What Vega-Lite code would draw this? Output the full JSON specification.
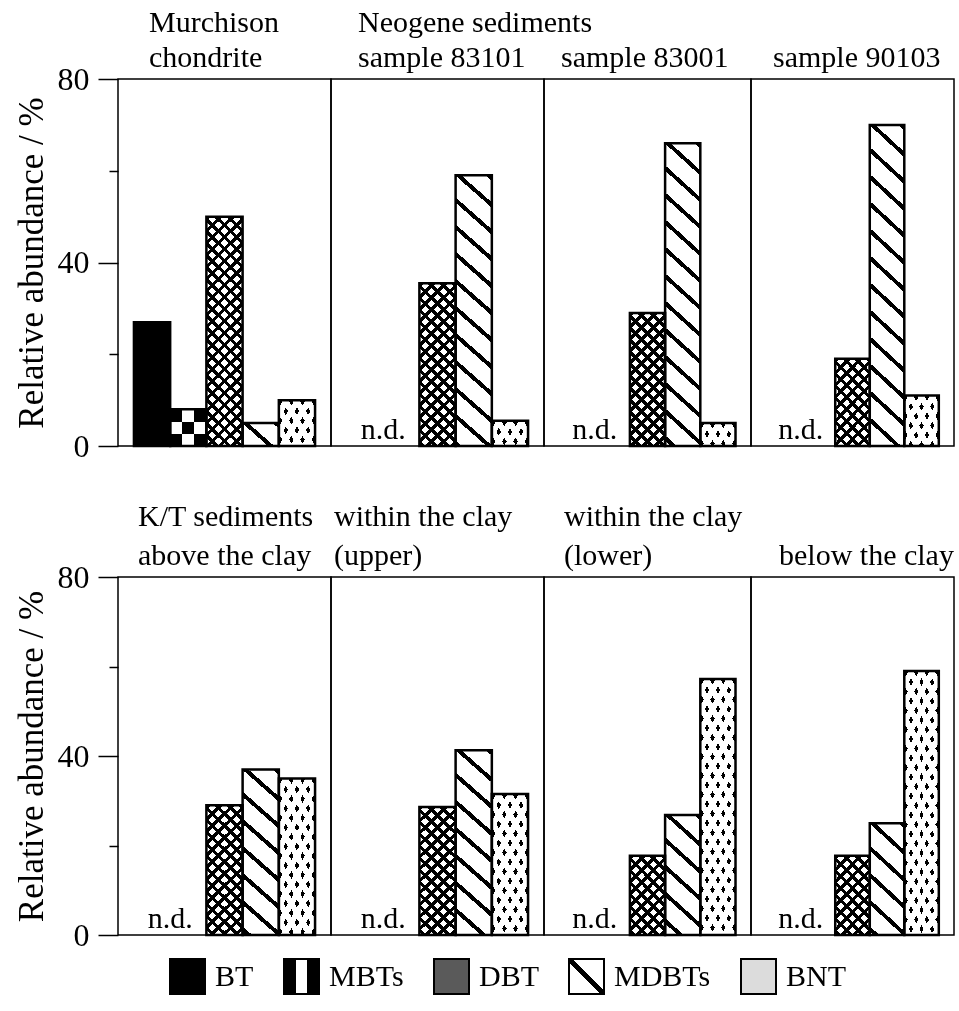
{
  "$schema": "https://vega.github.io/schema/vega-lite/v6.json",
  "background": "white",
  "padding": {"left": 13, "top": 7, "right": 6, "bottom": 5},
  "params": [
    {"name": "stCK", "expr": "[{offset:0,color:'#000'},{offset:0.3333,color:'#000'},{offset:0.3333,color:'#fff'},{offset:0.6667,color:'#fff'},{offset:0.6667,color:'#000'},{offset:1,color:'#000'}]"},
    {"name": "stDG", "expr": "[{offset:0,color:'#fff'},{offset:0.45,color:'#fff'},{offset:0.45,color:'#000'},{offset:0.55,color:'#000'},{offset:0.55,color:'#fff'},{offset:1,color:'#fff'}]"},
    {"name": "stMD", "expr": "[{offset:0,color:'#000'},{offset:0.0143,color:'#000'},{offset:0.0143,color:'#fff'},{offset:0.0714,color:'#fff'},{offset:0.0714,color:'#000'},{offset:0.0857,color:'#000'},{offset:0.0857,color:'#fff'},{offset:0.1429,color:'#fff'},{offset:0.1429,color:'#000'},{offset:0.1571,color:'#000'},{offset:0.1571,color:'#fff'},{offset:0.2143,color:'#fff'},{offset:0.2143,color:'#000'},{offset:0.2286,color:'#000'},{offset:0.2286,color:'#fff'},{offset:0.2857,color:'#fff'},{offset:0.2857,color:'#000'},{offset:0.3,color:'#000'},{offset:0.3,color:'#fff'},{offset:0.3571,color:'#fff'},{offset:0.3571,color:'#000'},{offset:0.3714,color:'#000'},{offset:0.3714,color:'#fff'},{offset:0.4286,color:'#fff'},{offset:0.4286,color:'#000'},{offset:0.4429,color:'#000'},{offset:0.4429,color:'#fff'},{offset:0.5,color:'#fff'},{offset:0.5,color:'#000'},{offset:0.5143,color:'#000'},{offset:0.5143,color:'#fff'},{offset:0.5714,color:'#fff'},{offset:0.5714,color:'#000'},{offset:0.5857,color:'#000'},{offset:0.5857,color:'#fff'},{offset:0.6429,color:'#fff'},{offset:0.6429,color:'#000'},{offset:0.6571,color:'#000'},{offset:0.6571,color:'#fff'},{offset:0.7143,color:'#fff'},{offset:0.7143,color:'#000'},{offset:0.7286,color:'#000'},{offset:0.7286,color:'#fff'},{offset:0.7857,color:'#fff'},{offset:0.7857,color:'#000'},{offset:0.8,color:'#000'},{offset:0.8,color:'#fff'},{offset:0.8571,color:'#fff'},{offset:0.8571,color:'#000'},{offset:0.8714,color:'#000'},{offset:0.8714,color:'#fff'},{offset:0.9286,color:'#fff'},{offset:0.9286,color:'#000'},{offset:0.9429,color:'#000'},{offset:0.9429,color:'#fff'},{offset:1,color:'#fff'}]"},
    {"name": "stDB", "expr": "[{offset:0,color:'#000'},{offset:0.0163,color:'#000'},{offset:0.0163,color:'#fff'},{offset:0.0435,color:'#fff'},{offset:0.0435,color:'#000'},{offset:0.0598,color:'#000'},{offset:0.0598,color:'#fff'},{offset:0.087,color:'#fff'},{offset:0.087,color:'#000'},{offset:0.1033,color:'#000'},{offset:0.1033,color:'#fff'},{offset:0.1304,color:'#fff'},{offset:0.1304,color:'#000'},{offset:0.1467,color:'#000'},{offset:0.1467,color:'#fff'},{offset:0.1739,color:'#fff'},{offset:0.1739,color:'#000'},{offset:0.1902,color:'#000'},{offset:0.1902,color:'#fff'},{offset:0.2174,color:'#fff'},{offset:0.2174,color:'#000'},{offset:0.2337,color:'#000'},{offset:0.2337,color:'#fff'},{offset:0.2609,color:'#fff'},{offset:0.2609,color:'#000'},{offset:0.2772,color:'#000'},{offset:0.2772,color:'#fff'},{offset:0.3043,color:'#fff'},{offset:0.3043,color:'#000'},{offset:0.3207,color:'#000'},{offset:0.3207,color:'#fff'},{offset:0.3478,color:'#fff'},{offset:0.3478,color:'#000'},{offset:0.3641,color:'#000'},{offset:0.3641,color:'#fff'},{offset:0.3913,color:'#fff'},{offset:0.3913,color:'#000'},{offset:0.4076,color:'#000'},{offset:0.4076,color:'#fff'},{offset:0.4348,color:'#fff'},{offset:0.4348,color:'#000'},{offset:0.4511,color:'#000'},{offset:0.4511,color:'#fff'},{offset:0.4783,color:'#fff'},{offset:0.4783,color:'#000'},{offset:0.4946,color:'#000'},{offset:0.4946,color:'#fff'},{offset:0.5217,color:'#fff'},{offset:0.5217,color:'#000'},{offset:0.538,color:'#000'},{offset:0.538,color:'#fff'},{offset:0.5652,color:'#fff'},{offset:0.5652,color:'#000'},{offset:0.5815,color:'#000'},{offset:0.5815,color:'#fff'},{offset:0.6087,color:'#fff'},{offset:0.6087,color:'#000'},{offset:0.625,color:'#000'},{offset:0.625,color:'#fff'},{offset:0.6522,color:'#fff'},{offset:0.6522,color:'#000'},{offset:0.6685,color:'#000'},{offset:0.6685,color:'#fff'},{offset:0.6957,color:'#fff'},{offset:0.6957,color:'#000'},{offset:0.712,color:'#000'},{offset:0.712,color:'#fff'},{offset:0.7391,color:'#fff'},{offset:0.7391,color:'#000'},{offset:0.7554,color:'#000'},{offset:0.7554,color:'#fff'},{offset:0.7826,color:'#fff'},{offset:0.7826,color:'#000'},{offset:0.7989,color:'#000'},{offset:0.7989,color:'#fff'},{offset:0.8261,color:'#fff'},{offset:0.8261,color:'#000'},{offset:0.8424,color:'#000'},{offset:0.8424,color:'#fff'},{offset:0.8696,color:'#fff'},{offset:0.8696,color:'#000'},{offset:0.8859,color:'#000'},{offset:0.8859,color:'#fff'},{offset:0.913,color:'#fff'},{offset:0.913,color:'#000'},{offset:0.9293,color:'#000'},{offset:0.9293,color:'#fff'},{offset:0.9565,color:'#fff'},{offset:0.9565,color:'#000'},{offset:0.9728,color:'#000'},{offset:0.9728,color:'#fff'},{offset:1,color:'#fff'}]"},
    {"name": "stBN", "expr": "[{offset:0,color:'#000'},{offset:0.0222,color:'#000'},{offset:0.0222,color:'#fff'},{offset:0.0556,color:'#fff'},{offset:0.0556,color:'#000'},{offset:0.0778,color:'#000'},{offset:0.0778,color:'#fff'},{offset:0.1111,color:'#fff'},{offset:0.1111,color:'#000'},{offset:0.1333,color:'#000'},{offset:0.1333,color:'#fff'},{offset:0.1667,color:'#fff'},{offset:0.1667,color:'#000'},{offset:0.1889,color:'#000'},{offset:0.1889,color:'#fff'},{offset:0.2222,color:'#fff'},{offset:0.2222,color:'#000'},{offset:0.2444,color:'#000'},{offset:0.2444,color:'#fff'},{offset:0.2778,color:'#fff'},{offset:0.2778,color:'#000'},{offset:0.3,color:'#000'},{offset:0.3,color:'#fff'},{offset:0.3333,color:'#fff'},{offset:0.3333,color:'#000'},{offset:0.3556,color:'#000'},{offset:0.3556,color:'#fff'},{offset:0.3889,color:'#fff'},{offset:0.3889,color:'#000'},{offset:0.4111,color:'#000'},{offset:0.4111,color:'#fff'},{offset:0.4444,color:'#fff'},{offset:0.4444,color:'#000'},{offset:0.4667,color:'#000'},{offset:0.4667,color:'#fff'},{offset:0.5,color:'#fff'},{offset:0.5,color:'#000'},{offset:0.5222,color:'#000'},{offset:0.5222,color:'#fff'},{offset:0.5556,color:'#fff'},{offset:0.5556,color:'#000'},{offset:0.5778,color:'#000'},{offset:0.5778,color:'#fff'},{offset:0.6111,color:'#fff'},{offset:0.6111,color:'#000'},{offset:0.6333,color:'#000'},{offset:0.6333,color:'#fff'},{offset:0.6667,color:'#fff'},{offset:0.6667,color:'#000'},{offset:0.6889,color:'#000'},{offset:0.6889,color:'#fff'},{offset:0.7222,color:'#fff'},{offset:0.7222,color:'#000'},{offset:0.7444,color:'#000'},{offset:0.7444,color:'#fff'},{offset:0.7778,color:'#fff'},{offset:0.7778,color:'#000'},{offset:0.8,color:'#000'},{offset:0.8,color:'#fff'},{offset:0.8333,color:'#fff'},{offset:0.8333,color:'#000'},{offset:0.8556,color:'#000'},{offset:0.8556,color:'#fff'},{offset:0.8889,color:'#fff'},{offset:0.8889,color:'#000'},{offset:0.9111,color:'#000'},{offset:0.9111,color:'#fff'},{offset:0.9444,color:'#fff'},{offset:0.9444,color:'#000'},{offset:0.9667,color:'#000'},{offset:0.9667,color:'#fff'},{offset:1,color:'#fff'}]"}
  ],
  "data": {"values": [
    {"panel": "Murchison", "species": "BT", "value": 27},
    {"panel": "Murchison", "species": "MBTs", "value": 8},
    {"panel": "Murchison", "species": "DBT", "value": 50},
    {"panel": "Murchison", "species": "MDBTs", "value": 5},
    {"panel": "Murchison", "species": "BNT", "value": 10},
    {"panel": "83101", "species": "BT", "value": null, "note": "n.d."},
    {"panel": "83101", "species": "MBTs", "value": null},
    {"panel": "83101", "species": "DBT", "value": 35.5},
    {"panel": "83101", "species": "MDBTs", "value": 59},
    {"panel": "83101", "species": "BNT", "value": 5.5},
    {"panel": "83001", "species": "BT", "value": null, "note": "n.d."},
    {"panel": "83001", "species": "MBTs", "value": null},
    {"panel": "83001", "species": "DBT", "value": 29},
    {"panel": "83001", "species": "MDBTs", "value": 66},
    {"panel": "83001", "species": "BNT", "value": 5},
    {"panel": "90103", "species": "BT", "value": null, "note": "n.d."},
    {"panel": "90103", "species": "MBTs", "value": null},
    {"panel": "90103", "species": "DBT", "value": 19},
    {"panel": "90103", "species": "MDBTs", "value": 70},
    {"panel": "90103", "species": "BNT", "value": 11},
    {"panel": "KT above", "species": "BT", "value": null, "note": "n.d."},
    {"panel": "KT above", "species": "MBTs", "value": null},
    {"panel": "KT above", "species": "DBT", "value": 29},
    {"panel": "KT above", "species": "MDBTs", "value": 37},
    {"panel": "KT above", "species": "BNT", "value": 35},
    {"panel": "KT upper", "species": "BT", "value": null, "note": "n.d."},
    {"panel": "KT upper", "species": "MBTs", "value": null},
    {"panel": "KT upper", "species": "DBT", "value": 28.6},
    {"panel": "KT upper", "species": "MDBTs", "value": 41.3},
    {"panel": "KT upper", "species": "BNT", "value": 31.5},
    {"panel": "KT lower", "species": "BT", "value": null, "note": "n.d."},
    {"panel": "KT lower", "species": "MBTs", "value": null},
    {"panel": "KT lower", "species": "DBT", "value": 17.7},
    {"panel": "KT lower", "species": "MDBTs", "value": 26.8},
    {"panel": "KT lower", "species": "BNT", "value": 57.2},
    {"panel": "KT below", "species": "BT", "value": null, "note": "n.d."},
    {"panel": "KT below", "species": "MBTs", "value": null},
    {"panel": "KT below", "species": "DBT", "value": 17.7},
    {"panel": "KT below", "species": "MDBTs", "value": 25},
    {"panel": "KT below", "species": "BNT", "value": 59}
  ]},
  "config": {
    "font": "Liberation Serif",
    "view": {"stroke": "black", "strokeWidth": 1.5},
    "title": {"anchor": "start", "frame": "group", "font": "Liberation Serif", "fontSize": 30, "fontWeight": "normal", "color": "black", "baseline": "bottom", "offset": 6, "limit": 400, "lineHeight": 35},
    "text": {"font": "Liberation Serif"}
  },
  "spacing": 38,
  "vconcat": [
    {
      "bounds": "flush",
      "spacing": 0,
      "hconcat": [
        {
          "width": 213, "height": 367,
          "title": {"text": ["Murchison", "chondrite"], "dx": 31, "offset": -10},
          "transform": [{"filter": "datum.panel == 'Murchison'"}],
          "encoding": {
            "x": {"field": "species", "type": "nominal", "scale": {"domain": ["BT", "MBTs", "DBT", "MDBTs", "BNT"], "paddingInner": 0, "paddingOuter": 0.44}, "axis": null},
            "y": {"field": "value", "type": "quantitative", "scale": {"domain": [0, 80], "nice": false},
              "axis": {"values": [0, 20, 40, 60, 80], "labelExpr": "datum.value % 40 == 0 ? datum.label : ''", "tickSize": {"condition": {"test": "datum.value % 40 == 0", "value": 20}, "value": 9}, "tickWidth": 1.5, "tickColor": "black", "labelPadding": 9, "labelFont": "Liberation Serif", "labelFontSize": 32, "labelColor": "black", "domain": false, "grid": false, "title": "Relative abundance / %", "titleFont": "Liberation Serif", "titleFontSize": 35, "titleFontWeight": "normal", "titleColor": "black", "titlePadding": 8}}
          },
          "layer": [
            {"mark": {"type": "bar", "strokeWidth": 0, "fill": {"expr": "datum.species=='BT' ? 'black' : datum.species=='MBTs' ? {gradient:'linear',x1:0,y1:0,x2:1,y2:0,stops:stCK} : datum.species=='DBT' ? {gradient:'linear',x1:0,y1:0,x2:9798/(1260.25+pow(datum.value*4.5875,2)),y2:276*datum.value*4.5875/(1260.25+pow(datum.value*4.5875,2)),stops:stDB} : datum.species=='MDBTs' ? {gradient:'linear',x1:1,y1:0,x2:1-12077/(1020.8+pow(datum.value*4.5875,2)),y2:378*datum.value*4.5875/(1020.8+pow(datum.value*4.5875,2)),stops:stMD} : {gradient:'linear',x1:0,y1:0,x2:21000/(3770+pow(datum.value*4.5875,2)),y2:342*datum.value*4.5875/(3770+pow(datum.value*4.5875,2)),stops:stBN}"}}},
            {"transform": [{"filter": "datum.species=='MBTs' || datum.species=='DBT' || datum.species=='BNT'"}],
             "mark": {"type": "bar", "strokeWidth": 0, "fill": {"expr": "datum.species=='MBTs' ? {gradient:'linear',x1:0,y1:0,x2:0,y2:1,stops:stCK} : datum.species=='DBT' ? {gradient:'linear',x1:1,y1:0,x2:1-9798/(1260.25+pow(datum.value*4.5875,2)),y2:276*datum.value*4.5875/(1260.25+pow(datum.value*4.5875,2)),stops:stDB} : {gradient:'linear',x1:1,y1:0,x2:1-21000/(3770+pow(datum.value*4.5875,2)),y2:342*datum.value*4.5875/(3770+pow(datum.value*4.5875,2)),stops:stBN}"}, "blend": {"expr": "datum.species=='BNT' ? 'lighten' : datum.species=='DBT' ? 'multiply' : 'difference'"}}},
            {"mark": {"type": "bar", "fill": "transparent", "strokeWidth": 2.5},
             "encoding": {"stroke": {"field": "species", "type": "nominal", "scale": {"domain": ["BT", "MBTs", "DBT", "MDBTs", "BNT"], "range": ["black", "black", "black", "black", "black"]},
               "legend": {"orient": "none", "legendX": 51, "legendY": 879, "direction": "horizontal", "title": null, "symbolType": "square", "symbolSize": 1225, "symbolStrokeWidth": 2, "labelFont": "Liberation Serif", "labelFontSize": 30, "labelColor": "black", "labelOffset": 9, "columnPadding": 26,
                 "encoding": {"symbols": {"fill": {"value": {"expr": "datum.value == 'BT' ? 'black' : datum.value == 'MBTs' ? {gradient:'linear',x1:0,y1:0,x2:1,y2:0,stops:stCK} : datum.value == 'DBT' ? '#5a5a5a' : datum.value == 'MDBTs' ? {gradient:'linear',x1:1,y1:0,x2:0,y2:1,stops:stDG} : '#dcdcdc'"}}, "fillOpacity": {"value": 1}}}}}}}
          ]
        },
        {
          "width": 213, "height": 367,
          "title": {"text": ["Neogene sediments", "sample 83101"], "dx": 27},
          "transform": [{"filter": "datum.panel == '83101'"}],
          "encoding": {
            "x": {"field": "species", "type": "nominal", "scale": {"domain": ["BT", "MBTs", "DBT", "MDBTs", "BNT"], "paddingInner": 0, "paddingOuter": 0.44}, "axis": null},
            "y": {"field": "value", "type": "quantitative", "scale": {"domain": [0, 80], "nice": false}, "axis": null}
          },
          "layer": [
            {"mark": {"type": "bar", "strokeWidth": 0, "fill": {"expr": "datum.species=='BT' ? 'black' : datum.species=='MBTs' ? {gradient:'linear',x1:0,y1:0,x2:1,y2:0,stops:stCK} : datum.species=='DBT' ? {gradient:'linear',x1:0,y1:0,x2:9798/(1260.25+pow(datum.value*4.5875,2)),y2:276*datum.value*4.5875/(1260.25+pow(datum.value*4.5875,2)),stops:stDB} : datum.species=='MDBTs' ? {gradient:'linear',x1:1,y1:0,x2:1-12077/(1020.8+pow(datum.value*4.5875,2)),y2:378*datum.value*4.5875/(1020.8+pow(datum.value*4.5875,2)),stops:stMD} : {gradient:'linear',x1:0,y1:0,x2:21000/(3770+pow(datum.value*4.5875,2)),y2:342*datum.value*4.5875/(3770+pow(datum.value*4.5875,2)),stops:stBN}"}}},
            {"transform": [{"filter": "datum.species=='MBTs' || datum.species=='DBT' || datum.species=='BNT'"}],
             "mark": {"type": "bar", "strokeWidth": 0, "fill": {"expr": "datum.species=='MBTs' ? {gradient:'linear',x1:0,y1:0,x2:0,y2:1,stops:stCK} : datum.species=='DBT' ? {gradient:'linear',x1:1,y1:0,x2:1-9798/(1260.25+pow(datum.value*4.5875,2)),y2:276*datum.value*4.5875/(1260.25+pow(datum.value*4.5875,2)),stops:stDB} : {gradient:'linear',x1:1,y1:0,x2:1-21000/(3770+pow(datum.value*4.5875,2)),y2:342*datum.value*4.5875/(3770+pow(datum.value*4.5875,2)),stops:stBN}"}, "blend": {"expr": "datum.species=='BNT' ? 'lighten' : datum.species=='DBT' ? 'multiply' : 'difference'"}}},
            {"mark": {"type": "bar", "fill": "transparent", "stroke": "black", "strokeWidth": 2.5}},
            {"transform": [{"filter": "datum.note != null"}],
             "mark": {"type": "text", "fontSize": 30, "baseline": "bottom", "dy": -1, "color": "black", "font": "Liberation Serif"},
             "encoding": {"x": {"field": "species", "type": "nominal", "bandPosition": 1, "scale": {"domain": ["BT", "MBTs", "DBT", "MDBTs", "BNT"], "paddingInner": 0, "paddingOuter": 0.44}, "axis": null}, "y": {"value": "height"}, "text": {"field": "note"}}}
          ]
        },
        {
          "width": 207, "height": 367,
          "title": {"text": ["", "sample 83001"], "dx": 17},
          "transform": [{"filter": "datum.panel == '83001'"}],
          "encoding": {
            "x": {"field": "species", "type": "nominal", "scale": {"domain": ["BT", "MBTs", "DBT", "MDBTs", "BNT"], "paddingInner": 0, "paddingOuter": 0.44}, "axis": null},
            "y": {"field": "value", "type": "quantitative", "scale": {"domain": [0, 80], "nice": false}, "axis": null}
          },
          "layer": [
            {"mark": {"type": "bar", "strokeWidth": 0, "fill": {"expr": "datum.species=='BT' ? 'black' : datum.species=='MBTs' ? {gradient:'linear',x1:0,y1:0,x2:1,y2:0,stops:stCK} : datum.species=='DBT' ? {gradient:'linear',x1:0,y1:0,x2:9798/(1260.25+pow(datum.value*4.5875,2)),y2:276*datum.value*4.5875/(1260.25+pow(datum.value*4.5875,2)),stops:stDB} : datum.species=='MDBTs' ? {gradient:'linear',x1:1,y1:0,x2:1-12077/(1020.8+pow(datum.value*4.5875,2)),y2:378*datum.value*4.5875/(1020.8+pow(datum.value*4.5875,2)),stops:stMD} : {gradient:'linear',x1:0,y1:0,x2:21000/(3770+pow(datum.value*4.5875,2)),y2:342*datum.value*4.5875/(3770+pow(datum.value*4.5875,2)),stops:stBN}"}}},
            {"transform": [{"filter": "datum.species=='MBTs' || datum.species=='DBT' || datum.species=='BNT'"}],
             "mark": {"type": "bar", "strokeWidth": 0, "fill": {"expr": "datum.species=='MBTs' ? {gradient:'linear',x1:0,y1:0,x2:0,y2:1,stops:stCK} : datum.species=='DBT' ? {gradient:'linear',x1:1,y1:0,x2:1-9798/(1260.25+pow(datum.value*4.5875,2)),y2:276*datum.value*4.5875/(1260.25+pow(datum.value*4.5875,2)),stops:stDB} : {gradient:'linear',x1:1,y1:0,x2:1-21000/(3770+pow(datum.value*4.5875,2)),y2:342*datum.value*4.5875/(3770+pow(datum.value*4.5875,2)),stops:stBN}"}, "blend": {"expr": "datum.species=='BNT' ? 'lighten' : datum.species=='DBT' ? 'multiply' : 'difference'"}}},
            {"mark": {"type": "bar", "fill": "transparent", "stroke": "black", "strokeWidth": 2.5}},
            {"transform": [{"filter": "datum.note != null"}],
             "mark": {"type": "text", "fontSize": 30, "baseline": "bottom", "dy": -1, "color": "black", "font": "Liberation Serif"},
             "encoding": {"x": {"field": "species", "type": "nominal", "bandPosition": 1, "scale": {"domain": ["BT", "MBTs", "DBT", "MDBTs", "BNT"], "paddingInner": 0, "paddingOuter": 0.44}, "axis": null}, "y": {"value": "height"}, "text": {"field": "note"}}}
          ]
        },
        {
          "width": 203, "height": 367,
          "title": {"text": ["", "sample 90103"], "dx": 22},
          "transform": [{"filter": "datum.panel == '90103'"}],
          "encoding": {
            "x": {"field": "species", "type": "nominal", "scale": {"domain": ["BT", "MBTs", "DBT", "MDBTs", "BNT"], "paddingInner": 0, "paddingOuter": 0.44}, "axis": null},
            "y": {"field": "value", "type": "quantitative", "scale": {"domain": [0, 80], "nice": false}, "axis": null}
          },
          "layer": [
            {"mark": {"type": "bar", "strokeWidth": 0, "fill": {"expr": "datum.species=='BT' ? 'black' : datum.species=='MBTs' ? {gradient:'linear',x1:0,y1:0,x2:1,y2:0,stops:stCK} : datum.species=='DBT' ? {gradient:'linear',x1:0,y1:0,x2:9798/(1260.25+pow(datum.value*4.5875,2)),y2:276*datum.value*4.5875/(1260.25+pow(datum.value*4.5875,2)),stops:stDB} : datum.species=='MDBTs' ? {gradient:'linear',x1:1,y1:0,x2:1-12077/(1020.8+pow(datum.value*4.5875,2)),y2:378*datum.value*4.5875/(1020.8+pow(datum.value*4.5875,2)),stops:stMD} : {gradient:'linear',x1:0,y1:0,x2:21000/(3770+pow(datum.value*4.5875,2)),y2:342*datum.value*4.5875/(3770+pow(datum.value*4.5875,2)),stops:stBN}"}}},
            {"transform": [{"filter": "datum.species=='MBTs' || datum.species=='DBT' || datum.species=='BNT'"}],
             "mark": {"type": "bar", "strokeWidth": 0, "fill": {"expr": "datum.species=='MBTs' ? {gradient:'linear',x1:0,y1:0,x2:0,y2:1,stops:stCK} : datum.species=='DBT' ? {gradient:'linear',x1:1,y1:0,x2:1-9798/(1260.25+pow(datum.value*4.5875,2)),y2:276*datum.value*4.5875/(1260.25+pow(datum.value*4.5875,2)),stops:stDB} : {gradient:'linear',x1:1,y1:0,x2:1-21000/(3770+pow(datum.value*4.5875,2)),y2:342*datum.value*4.5875/(3770+pow(datum.value*4.5875,2)),stops:stBN}"}, "blend": {"expr": "datum.species=='BNT' ? 'lighten' : datum.species=='DBT' ? 'multiply' : 'difference'"}}},
            {"mark": {"type": "bar", "fill": "transparent", "stroke": "black", "strokeWidth": 2.5}},
            {"transform": [{"filter": "datum.note != null"}],
             "mark": {"type": "text", "fontSize": 30, "baseline": "bottom", "dy": -1, "color": "black", "font": "Liberation Serif"},
             "encoding": {"x": {"field": "species", "type": "nominal", "bandPosition": 1, "scale": {"domain": ["BT", "MBTs", "DBT", "MDBTs", "BNT"], "paddingInner": 0, "paddingOuter": 0.44}, "axis": null}, "y": {"value": "height"}, "text": {"field": "note"}}}
          ]
        }
      ]
    },
    {
      "bounds": "flush",
      "spacing": 0,
      "hconcat": [
        {
          "width": 213, "height": 358,
          "title": {"text": ["K/T sediments", "above the clay"], "dx": 20, "lineHeight": 39, "offset": -10},
          "transform": [{"filter": "datum.panel == 'KT above'"}],
          "encoding": {
            "x": {"field": "species", "type": "nominal", "scale": {"domain": ["BT", "MBTs", "DBT", "MDBTs", "BNT"], "paddingInner": 0, "paddingOuter": 0.44}, "axis": null},
            "y": {"field": "value", "type": "quantitative", "scale": {"domain": [0, 80], "nice": false},
              "axis": {"values": [0, 20, 40, 60, 80], "labelExpr": "datum.value % 40 == 0 ? datum.label : ''", "tickSize": {"condition": {"test": "datum.value % 40 == 0", "value": 20}, "value": 9}, "tickWidth": 1.5, "tickColor": "black", "labelPadding": 9, "labelFont": "Liberation Serif", "labelFontSize": 32, "labelColor": "black", "domain": false, "grid": false, "title": "Relative abundance / %", "titleFont": "Liberation Serif", "titleFontSize": 35, "titleFontWeight": "normal", "titleColor": "black", "titlePadding": 8}}
          },
          "layer": [
            {"mark": {"type": "bar", "strokeWidth": 0, "fill": {"expr": "datum.species=='BT' ? 'black' : datum.species=='MBTs' ? {gradient:'linear',x1:0,y1:0,x2:1,y2:0,stops:stCK} : datum.species=='DBT' ? {gradient:'linear',x1:0,y1:0,x2:9798/(1260.25+pow(datum.value*4.475,2)),y2:276*datum.value*4.475/(1260.25+pow(datum.value*4.475,2)),stops:stDB} : datum.species=='MDBTs' ? {gradient:'linear',x1:1,y1:0,x2:1-12077/(1020.8+pow(datum.value*4.475,2)),y2:378*datum.value*4.475/(1020.8+pow(datum.value*4.475,2)),stops:stMD} : {gradient:'linear',x1:0,y1:0,x2:21000/(3770+pow(datum.value*4.475,2)),y2:342*datum.value*4.475/(3770+pow(datum.value*4.475,2)),stops:stBN}"}}},
            {"transform": [{"filter": "datum.species=='MBTs' || datum.species=='DBT' || datum.species=='BNT'"}],
             "mark": {"type": "bar", "strokeWidth": 0, "fill": {"expr": "datum.species=='MBTs' ? {gradient:'linear',x1:0,y1:0,x2:0,y2:1,stops:stCK} : datum.species=='DBT' ? {gradient:'linear',x1:1,y1:0,x2:1-9798/(1260.25+pow(datum.value*4.475,2)),y2:276*datum.value*4.475/(1260.25+pow(datum.value*4.475,2)),stops:stDB} : {gradient:'linear',x1:1,y1:0,x2:1-21000/(3770+pow(datum.value*4.475,2)),y2:342*datum.value*4.475/(3770+pow(datum.value*4.475,2)),stops:stBN}"}, "blend": {"expr": "datum.species=='BNT' ? 'lighten' : datum.species=='DBT' ? 'multiply' : 'difference'"}}},
            {"mark": {"type": "bar", "fill": "transparent", "stroke": "black", "strokeWidth": 2.5}},
            {"transform": [{"filter": "datum.note != null"}],
             "mark": {"type": "text", "fontSize": 30, "baseline": "bottom", "dy": -1, "color": "black", "font": "Liberation Serif"},
             "encoding": {"x": {"field": "species", "type": "nominal", "bandPosition": 1, "scale": {"domain": ["BT", "MBTs", "DBT", "MDBTs", "BNT"], "paddingInner": 0, "paddingOuter": 0.44}, "axis": null}, "y": {"value": "height"}, "text": {"field": "note"}}}
          ]
        },
        {
          "width": 213, "height": 358,
          "title": {"text": ["within the clay", "(upper)"], "dx": 3, "lineHeight": 39},
          "transform": [{"filter": "datum.panel == 'KT upper'"}],
          "encoding": {
            "x": {"field": "species", "type": "nominal", "scale": {"domain": ["BT", "MBTs", "DBT", "MDBTs", "BNT"], "paddingInner": 0, "paddingOuter": 0.44}, "axis": null},
            "y": {"field": "value", "type": "quantitative", "scale": {"domain": [0, 80], "nice": false}, "axis": null}
          },
          "layer": [
            {"mark": {"type": "bar", "strokeWidth": 0, "fill": {"expr": "datum.species=='BT' ? 'black' : datum.species=='MBTs' ? {gradient:'linear',x1:0,y1:0,x2:1,y2:0,stops:stCK} : datum.species=='DBT' ? {gradient:'linear',x1:0,y1:0,x2:9798/(1260.25+pow(datum.value*4.475,2)),y2:276*datum.value*4.475/(1260.25+pow(datum.value*4.475,2)),stops:stDB} : datum.species=='MDBTs' ? {gradient:'linear',x1:1,y1:0,x2:1-12077/(1020.8+pow(datum.value*4.475,2)),y2:378*datum.value*4.475/(1020.8+pow(datum.value*4.475,2)),stops:stMD} : {gradient:'linear',x1:0,y1:0,x2:21000/(3770+pow(datum.value*4.475,2)),y2:342*datum.value*4.475/(3770+pow(datum.value*4.475,2)),stops:stBN}"}}},
            {"transform": [{"filter": "datum.species=='MBTs' || datum.species=='DBT' || datum.species=='BNT'"}],
             "mark": {"type": "bar", "strokeWidth": 0, "fill": {"expr": "datum.species=='MBTs' ? {gradient:'linear',x1:0,y1:0,x2:0,y2:1,stops:stCK} : datum.species=='DBT' ? {gradient:'linear',x1:1,y1:0,x2:1-9798/(1260.25+pow(datum.value*4.475,2)),y2:276*datum.value*4.475/(1260.25+pow(datum.value*4.475,2)),stops:stDB} : {gradient:'linear',x1:1,y1:0,x2:1-21000/(3770+pow(datum.value*4.475,2)),y2:342*datum.value*4.475/(3770+pow(datum.value*4.475,2)),stops:stBN}"}, "blend": {"expr": "datum.species=='BNT' ? 'lighten' : datum.species=='DBT' ? 'multiply' : 'difference'"}}},
            {"mark": {"type": "bar", "fill": "transparent", "stroke": "black", "strokeWidth": 2.5}},
            {"transform": [{"filter": "datum.note != null"}],
             "mark": {"type": "text", "fontSize": 30, "baseline": "bottom", "dy": -1, "color": "black", "font": "Liberation Serif"},
             "encoding": {"x": {"field": "species", "type": "nominal", "bandPosition": 1, "scale": {"domain": ["BT", "MBTs", "DBT", "MDBTs", "BNT"], "paddingInner": 0, "paddingOuter": 0.44}, "axis": null}, "y": {"value": "height"}, "text": {"field": "note"}}}
          ]
        },
        {
          "width": 207, "height": 358,
          "title": {"text": ["within the clay", "(lower)"], "dx": 20, "lineHeight": 39},
          "transform": [{"filter": "datum.panel == 'KT lower'"}],
          "encoding": {
            "x": {"field": "species", "type": "nominal", "scale": {"domain": ["BT", "MBTs", "DBT", "MDBTs", "BNT"], "paddingInner": 0, "paddingOuter": 0.44}, "axis": null},
            "y": {"field": "value", "type": "quantitative", "scale": {"domain": [0, 80], "nice": false}, "axis": null}
          },
          "layer": [
            {"mark": {"type": "bar", "strokeWidth": 0, "fill": {"expr": "datum.species=='BT' ? 'black' : datum.species=='MBTs' ? {gradient:'linear',x1:0,y1:0,x2:1,y2:0,stops:stCK} : datum.species=='DBT' ? {gradient:'linear',x1:0,y1:0,x2:9798/(1260.25+pow(datum.value*4.475,2)),y2:276*datum.value*4.475/(1260.25+pow(datum.value*4.475,2)),stops:stDB} : datum.species=='MDBTs' ? {gradient:'linear',x1:1,y1:0,x2:1-12077/(1020.8+pow(datum.value*4.475,2)),y2:378*datum.value*4.475/(1020.8+pow(datum.value*4.475,2)),stops:stMD} : {gradient:'linear',x1:0,y1:0,x2:21000/(3770+pow(datum.value*4.475,2)),y2:342*datum.value*4.475/(3770+pow(datum.value*4.475,2)),stops:stBN}"}}},
            {"transform": [{"filter": "datum.species=='MBTs' || datum.species=='DBT' || datum.species=='BNT'"}],
             "mark": {"type": "bar", "strokeWidth": 0, "fill": {"expr": "datum.species=='MBTs' ? {gradient:'linear',x1:0,y1:0,x2:0,y2:1,stops:stCK} : datum.species=='DBT' ? {gradient:'linear',x1:1,y1:0,x2:1-9798/(1260.25+pow(datum.value*4.475,2)),y2:276*datum.value*4.475/(1260.25+pow(datum.value*4.475,2)),stops:stDB} : {gradient:'linear',x1:1,y1:0,x2:1-21000/(3770+pow(datum.value*4.475,2)),y2:342*datum.value*4.475/(3770+pow(datum.value*4.475,2)),stops:stBN}"}, "blend": {"expr": "datum.species=='BNT' ? 'lighten' : datum.species=='DBT' ? 'multiply' : 'difference'"}}},
            {"mark": {"type": "bar", "fill": "transparent", "stroke": "black", "strokeWidth": 2.5}},
            {"transform": [{"filter": "datum.note != null"}],
             "mark": {"type": "text", "fontSize": 30, "baseline": "bottom", "dy": -1, "color": "black", "font": "Liberation Serif"},
             "encoding": {"x": {"field": "species", "type": "nominal", "bandPosition": 1, "scale": {"domain": ["BT", "MBTs", "DBT", "MDBTs", "BNT"], "paddingInner": 0, "paddingOuter": 0.44}, "axis": null}, "y": {"value": "height"}, "text": {"field": "note"}}}
          ]
        },
        {
          "width": 203, "height": 358,
          "title": {"text": ["", "below the clay"], "dx": 28, "lineHeight": 39},
          "transform": [{"filter": "datum.panel == 'KT below'"}],
          "encoding": {
            "x": {"field": "species", "type": "nominal", "scale": {"domain": ["BT", "MBTs", "DBT", "MDBTs", "BNT"], "paddingInner": 0, "paddingOuter": 0.44}, "axis": null},
            "y": {"field": "value", "type": "quantitative", "scale": {"domain": [0, 80], "nice": false}, "axis": null}
          },
          "layer": [
            {"mark": {"type": "bar", "strokeWidth": 0, "fill": {"expr": "datum.species=='BT' ? 'black' : datum.species=='MBTs' ? {gradient:'linear',x1:0,y1:0,x2:1,y2:0,stops:stCK} : datum.species=='DBT' ? {gradient:'linear',x1:0,y1:0,x2:9798/(1260.25+pow(datum.value*4.475,2)),y2:276*datum.value*4.475/(1260.25+pow(datum.value*4.475,2)),stops:stDB} : datum.species=='MDBTs' ? {gradient:'linear',x1:1,y1:0,x2:1-12077/(1020.8+pow(datum.value*4.475,2)),y2:378*datum.value*4.475/(1020.8+pow(datum.value*4.475,2)),stops:stMD} : {gradient:'linear',x1:0,y1:0,x2:21000/(3770+pow(datum.value*4.475,2)),y2:342*datum.value*4.475/(3770+pow(datum.value*4.475,2)),stops:stBN}"}}},
            {"transform": [{"filter": "datum.species=='MBTs' || datum.species=='DBT' || datum.species=='BNT'"}],
             "mark": {"type": "bar", "strokeWidth": 0, "fill": {"expr": "datum.species=='MBTs' ? {gradient:'linear',x1:0,y1:0,x2:0,y2:1,stops:stCK} : datum.species=='DBT' ? {gradient:'linear',x1:1,y1:0,x2:1-9798/(1260.25+pow(datum.value*4.475,2)),y2:276*datum.value*4.475/(1260.25+pow(datum.value*4.475,2)),stops:stDB} : {gradient:'linear',x1:1,y1:0,x2:1-21000/(3770+pow(datum.value*4.475,2)),y2:342*datum.value*4.475/(3770+pow(datum.value*4.475,2)),stops:stBN}"}, "blend": {"expr": "datum.species=='BNT' ? 'lighten' : datum.species=='DBT' ? 'multiply' : 'difference'"}}},
            {"mark": {"type": "bar", "fill": "transparent", "stroke": "black", "strokeWidth": 2.5}},
            {"transform": [{"filter": "datum.note != null"}],
             "mark": {"type": "text", "fontSize": 30, "baseline": "bottom", "dy": -1, "color": "black", "font": "Liberation Serif"},
             "encoding": {"x": {"field": "species", "type": "nominal", "bandPosition": 1, "scale": {"domain": ["BT", "MBTs", "DBT", "MDBTs", "BNT"], "paddingInner": 0, "paddingOuter": 0.44}, "axis": null}, "y": {"value": "height"}, "text": {"field": "note"}}}
          ]
        }
      ]
    }
  ]
}
